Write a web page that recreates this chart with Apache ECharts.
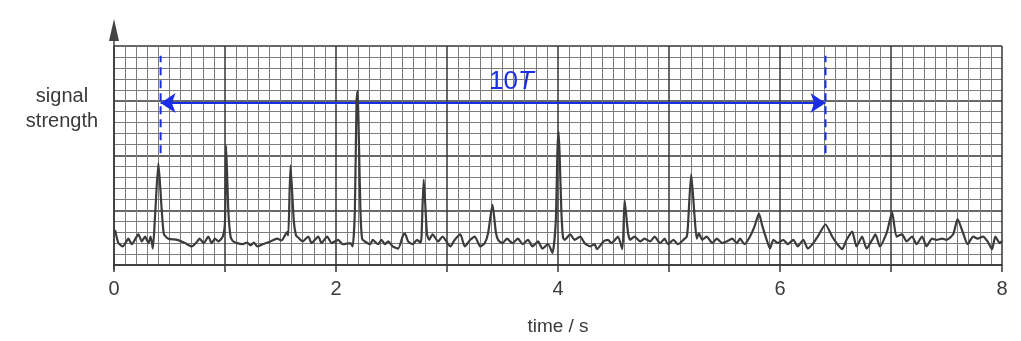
<!DOCTYPE html>
<html><head><meta charset="utf-8">
<script src="https://cdn.jsdelivr.net/npm/echarts@6/dist/echarts.min.js"></script>
<style>html,body{margin:0;padding:0;background:#fff}#c{width:1021px;height:341px}</style>
</head><body><div id="c"></div>
<script>
// x tick labels shown (ticks every 1 s, labels every 2 s)
const xTickLabels = ['0', '2', '4', '6', '8'];
// signal trace: [time / s, signal strength (grid units)]
const signal = [[0.01,3.2],[0.04,2.0],[0.08,1.7],[0.13,2.4],[0.16,1.9],[0.22,2.8],[0.25,2.15],[0.28,2.6],[0.31,2.0],[0.33,2.6],[0.35,1.5],[0.37,4.5],[0.40,9.3],[0.43,5.0],[0.45,2.8],[0.49,2.4],[0.57,2.3],[0.64,2.0],[0.70,1.7],[0.75,2.15],[0.77,2.4],[0.81,2.0],[0.85,2.6],[0.88,2.0],[0.91,2.4],[0.94,2.15],[0.98,2.6],[1.00,4.0],[1.01,10.9],[1.03,5.0],[1.05,2.6],[1.07,2.2],[1.11,2.0],[1.16,1.9],[1.20,2.05],[1.23,1.8],[1.26,2.05],[1.29,1.7],[1.34,1.9],[1.41,2.15],[1.47,2.4],[1.51,2.25],[1.56,3.0],[1.57,2.7],[1.59,9.1],[1.62,4.0],[1.64,2.7],[1.66,2.5],[1.70,2.15],[1.75,2.6],[1.78,2.0],[1.84,2.6],[1.87,2.0],[1.92,2.6],[1.96,2.0],[2.02,2.3],[2.06,1.9],[2.13,2.0],[2.15,1.7],[2.17,5.0],[2.185,15.0],[2.195,15.9],[2.205,12.0],[2.22,5.0],[2.235,2.4],[2.26,2.15],[2.31,1.9],[2.33,2.3],[2.38,1.9],[2.41,2.3],[2.44,1.9],[2.47,2.15],[2.51,1.7],[2.56,1.5],[2.60,2.6],[2.62,2.9],[2.65,2.15],[2.69,1.9],[2.73,2.3],[2.76,2.05],[2.77,2.5],[2.79,7.8],[2.82,2.8],[2.84,2.3],[2.87,2.8],[2.92,2.15],[2.96,2.6],[3.03,1.7],[3.07,2.3],[3.12,2.8],[3.16,1.7],[3.21,2.3],[3.25,2.6],[3.30,1.7],[3.34,2.0],[3.37,2.9],[3.41,5.5],[3.44,3.0],[3.46,2.3],[3.50,2.0],[3.54,2.4],[3.59,2.0],[3.64,2.4],[3.68,1.9],[3.73,2.3],[3.77,1.7],[3.82,2.15],[3.86,1.5],[3.91,1.9],[3.95,1.1],[3.98,4.0],[3.995,10.5],[4.005,12.2],[4.015,10.0],[4.03,5.0],[4.045,2.5],[4.06,2.3],[4.11,2.8],[4.15,2.3],[4.20,2.6],[4.24,2.0],[4.29,1.7],[4.33,1.9],[4.35,1.45],[4.41,2.15],[4.45,2.3],[4.48,2.0],[4.51,2.25],[4.54,2.6],[4.58,1.45],[4.60,5.9],[4.63,3.0],[4.65,2.3],[4.69,2.6],[4.74,2.15],[4.78,2.4],[4.83,2.15],[4.87,2.6],[4.92,2.0],[4.96,2.4],[4.99,1.9],[5.04,2.3],[5.08,1.9],[5.13,2.3],[5.16,2.6],[5.17,3.5],[5.20,8.3],[5.23,4.5],[5.25,2.4],[5.27,2.9],[5.30,2.3],[5.34,2.6],[5.39,2.0],[5.43,2.4],[5.48,2.0],[5.52,2.15],[5.57,2.4],[5.61,2.0],[5.64,2.4],[5.68,1.9],[5.73,2.6],[5.77,3.5],[5.81,4.7],[5.84,3.6],[5.88,2.3],[5.91,1.5],[5.94,2.3],[5.98,2.0],[6.03,2.3],[6.07,1.9],[6.12,2.3],[6.16,1.7],[6.21,2.3],[6.25,1.5],[6.30,2.0],[6.34,2.6],[6.41,3.7],[6.47,2.6],[6.51,2.0],[6.56,1.45],[6.60,2.3],[6.65,3.05],[6.69,1.7],[6.74,2.6],[6.78,1.5],[6.83,2.3],[6.86,2.8],[6.90,1.7],[6.96,2.9],[7.01,4.8],[7.05,2.6],[7.10,2.8],[7.14,2.15],[7.19,2.6],[7.23,1.9],[7.28,2.6],[7.32,1.7],[7.37,2.4],[7.41,2.3],[7.46,2.4],[7.50,2.3],[7.56,2.8],[7.60,4.2],[7.65,2.9],[7.69,1.9],[7.74,2.6],[7.78,2.4],[7.83,2.6],[7.87,2.15],[7.91,1.45],[7.94,2.6],[7.98,2.0],[8.00,2.2]];
// annotation: 10T span
const markerTimes = [0.42, 6.41];
const markerRange = [10.2, 19.1];
const arrowLevel = 14.8;
const periodLabelPos = [3.58, 16.7];

const BLUE = '#1a2ee6';
const MAJOR = '#363636';
const MINOR = '#7c7c7c';
const FONT = '"Liberation Sans", Arial, sans-serif';

const chart = echarts.init(document.getElementById('c'), null, {renderer: 'canvas'});
const markerSeries = markerTimes.map(t => ({
  type: 'line', xAxisIndex: 0, yAxisIndex: 0, showSymbol: false, symbol: 'none', silent: true, z: 6,
  data: [[t, markerRange[0]], [t, markerRange[1]]],
  lineStyle: {color: BLUE, width: 2, type: [8, 5]}
}));
markerSeries[0].markLine = {
  silent: true, symbol: ['arrow', 'arrow'], symbolSize: 15,
  lineStyle: {color: BLUE, width: 2.2, type: 'solid'},
  itemStyle: {color: BLUE},
  label: {show: false},
  data: [[{coord: [markerTimes[0], arrowLevel]}, {coord: [markerTimes[1], arrowLevel]}]]
};

chart.setOption({
  animation: false,
  backgroundColor: '#fff',
  grid: [
    {left: 114, right: 19, top: 46, bottom: 72},
    {left: 114, right: 19, top: 30, bottom: 72}
  ],
  graphic: [{
    type: 'text', x: 62, y: 84,
    style: {text: 'signal\nstrength', font: '20px ' + FONT, fill: '#3a3a3a', align: 'center', lineHeight: 25}
  }],
  xAxis: [{
    gridIndex: 0, type: 'value', min: 0, max: 8, interval: 1,
    name: 'time / s', nameLocation: 'middle', nameGap: 52,
    nameTextStyle: {fontSize: 19, color: '#3a3a3a', fontFamily: FONT},
    axisLine: {show: true, lineStyle: {color: MAJOR, width: 1.5}},
    axisTick: {show: true, length: 7, lineStyle: {color: MAJOR, width: 1.5}},
    minorTick: {show: true, splitNumber: 10, length: 0},
    axisLabel: {fontSize: 20, color: '#3a3a3a', margin: 14, fontFamily: FONT,
      formatter: v => xTickLabels.includes(String(v)) ? String(v) : ''},
    splitLine: {show: true, lineStyle: {color: MAJOR, width: 1.5}},
    minorSplitLine: {show: true, lineStyle: {color: MINOR, width: 1}}
  }, {
    gridIndex: 1, type: 'value', min: 0, max: 8, show: false
  }],
  yAxis: [{
    gridIndex: 0, type: 'value', min: 0, max: 20, interval: 5,
    axisLine: {show: true, lineStyle: {color: MAJOR, width: 1.5}},
    axisTick: {show: false}, axisLabel: {show: false},
    minorTick: {show: true, splitNumber: 5, length: 0},
    splitLine: {show: true, lineStyle: {color: MAJOR, width: 1.5}},
    minorSplitLine: {show: true, lineStyle: {color: MINOR, width: 1}}
  }, {
    gridIndex: 1, type: 'value', min: 0, max: 1,
    axisLine: {show: true, symbol: ['none', 'triangle'], symbolSize: [10, 22], lineStyle: {color: '#444', width: 1.5}},
    axisTick: {show: false}, axisLabel: {show: false}, splitLine: {show: false}
  }],
  series: [{
    type: 'line', xAxisIndex: 0, yAxisIndex: 0, data: signal, showSymbol: false, symbol: 'none', z: 5,
    smooth: 0.2,
    lineStyle: {color: '#3c3c3c', width: 2.2}
  }, ...markerSeries, {
    type: 'scatter', xAxisIndex: 0, yAxisIndex: 0, symbolSize: 0, silent: true, z: 7,
    itemStyle: {opacity: 1},
    data: [periodLabelPos],
    label: {show: true, position: 'inside', formatter: '{a|10}{b|T}',
      rich: {a: {fontSize: 26, color: BLUE, fontFamily: FONT},
             b: {fontSize: 26, color: BLUE, fontStyle: 'italic', fontFamily: FONT}}}
  }]
});
</script></body></html>
